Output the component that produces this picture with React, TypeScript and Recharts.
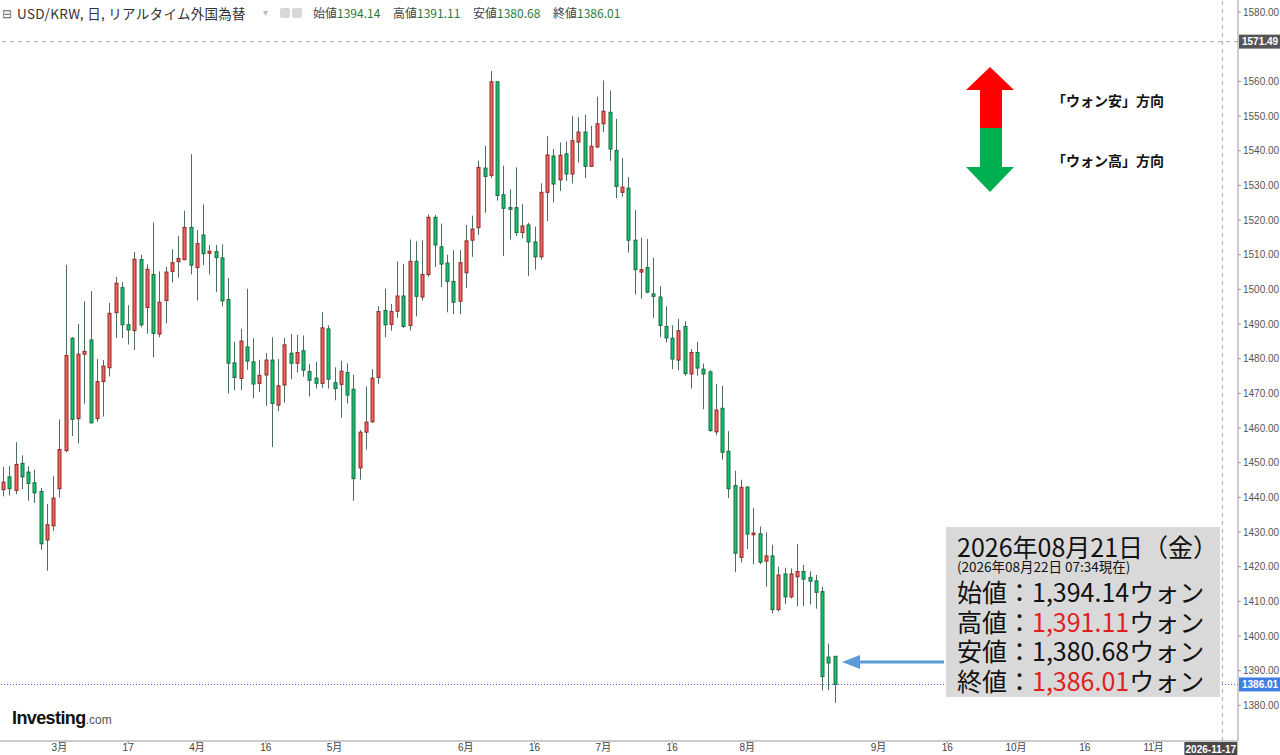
import React from "react";
import { Bar, ComposedChart, ReferenceLine, XAxis, YAxis } from "recharts";

// first trading day shown and how many weekday slots the x axis holds
const START_DATE = "2026-02-17";
const SLOT_COUNT = 198;

const opens = [
  1442.2, 1445.9, 1442.0, 1449.8, 1447.3, 1444.2, 1441.7, 1427.7, 1431.8, 1442.5,
  1453.5, 1485.9, 1462.7, 1481.3, 1485.4, 1462.7, 1473.4, 1477.4, 1493.3, 1500.5,
  1489.8, 1488.1, 1508.6, 1494.8, 1504.3, 1487.1, 1496.8, 1505.2, 1508.0, 1508.6,
  1517.9, 1506.3, 1515.7, 1510.4, 1510.9, 1509.1, 1497.1, 1478.8, 1474.3, 1483.4,
  1479.1, 1472.9, 1475.3, 1479.6, 1466.6, 1472.4, 1481.6, 1478.7, 1482.3, 1476.3,
  1474.4, 1472.9, 1488.6, 1473.1, 1472.6, 1476.0, 1471.2, 1448.5, 1458.8, 1461.8,
  1474.6, 1493.9, 1489.9, 1493.7, 1498.1, 1489.6, 1508.1, 1497.8, 1504.3, 1520.8,
  1512.3, 1507.6, 1502.3, 1496.6, 1504.8, 1514.2, 1517.8, 1535.0, 1532.9, 1559.9,
  1527.3, 1523.6, 1523.6, 1516.4, 1518.6, 1513.7, 1509.4, 1528.0, 1538.5, 1531.6,
  1539.1, 1533.3, 1542.5, 1545.4, 1535.5, 1541.1, 1547.8, 1551.1, 1540.1, 1528.0,
  1529.2, 1514.2, 1505.0, 1506.3, 1498.7, 1497.8, 1489.3, 1485.9, 1479.6, 1489.3,
  1475.6, 1481.8, 1477.0, 1476.2, 1458.9, 1465.7, 1453.3, 1443.4, 1422.7, 1443.0,
  1429.2, 1429.5, 1421.6, 1423.1, 1407.6, 1417.9, 1411.3, 1417.1, 1418.6, 1416.9,
  1415.9, 1412.8, 1393.9, 1394.14,
];
const highs = [
  1448.8, 1449.0, 1455.9, 1452.1, 1449.0, 1448.0, 1442.7, 1438.1, 1446.1, 1462.5,
  1507.1, 1486.2, 1490.0, 1496.6, 1499.5, 1479.9, 1479.6, 1496.1, 1503.6, 1502.1,
  1495.4, 1510.8, 1510.0, 1507.2, 1519.3, 1505.2, 1506.5, 1511.6, 1515.4, 1522.7,
  1539.0, 1517.1, 1524.5, 1512.8, 1512.8, 1513.0, 1503.3, 1484.9, 1488.6, 1500.2,
  1485.9, 1479.7, 1481.6, 1486.2, 1479.9, 1486.0, 1487.2, 1486.9, 1486.7, 1478.5,
  1479.2, 1493.4, 1489.6, 1477.5, 1479.4, 1478.7, 1475.4, 1459.4, 1472.0, 1477.0,
  1495.1, 1500.2, 1495.8, 1508.1, 1507.4, 1514.4, 1513.9, 1514.2, 1521.6, 1521.5,
  1519.0, 1510.0, 1511.3, 1511.3, 1518.6, 1521.3, 1537.2, 1541.4, 1563.0, 1560.1,
  1535.7, 1528.9, 1535.2, 1524.6, 1519.2, 1518.1, 1530.6, 1544.2, 1540.5, 1542.4,
  1542.7, 1550.0, 1549.7, 1550.4, 1547.2, 1555.6, 1560.3, 1557.4, 1549.2, 1537.9,
  1532.4, 1522.9, 1514.9, 1514.5, 1509.2, 1500.9, 1495.1, 1489.6, 1491.5, 1490.8,
  1482.8, 1484.9, 1478.6, 1476.7, 1472.7, 1472.2, 1459.1, 1447.7, 1445.1, 1443.0,
  1436.9, 1431.6, 1429.9, 1426.3, 1420.0, 1419.7, 1419.5, 1426.5, 1420.5, 1418.7,
  1417.6, 1414.2, 1397.8, 1394.14,
];
const lows = [
  1440.3, 1440.5, 1441.0, 1442.4, 1439.0, 1438.4, 1424.8, 1418.8, 1430.3, 1440.0,
  1453.0, 1457.7, 1455.6, 1467.0, 1461.3, 1461.8, 1463.3, 1474.9, 1486.0, 1486.0,
  1484.1, 1482.5, 1489.1, 1487.2, 1480.4, 1486.2, 1490.2, 1502.0, 1503.4, 1508.4,
  1504.3, 1496.8, 1507.0, 1504.3, 1499.2, 1495.1, 1470.0, 1470.9, 1470.9, 1476.8,
  1468.6, 1470.4, 1466.4, 1454.5, 1464.9, 1467.3, 1474.1, 1476.0, 1474.8, 1469.1,
  1471.4, 1471.5, 1471.4, 1468.0, 1463.0, 1467.1, 1439.0, 1445.1, 1453.8, 1461.5,
  1472.7, 1486.2, 1488.1, 1491.8, 1488.9, 1488.1, 1492.2, 1496.8, 1503.6, 1506.5,
  1500.7, 1493.4, 1492.9, 1492.8, 1500.4, 1509.4, 1515.7, 1522.1, 1532.1, 1525.6,
  1509.6, 1514.4, 1515.4, 1514.7, 1503.9, 1505.7, 1508.6, 1519.7, 1525.1, 1528.4,
  1531.3, 1530.6, 1536.6, 1532.1, 1535.3, 1540.8, 1545.4, 1537.1, 1526.3, 1526.8,
  1510.6, 1498.5, 1497.3, 1498.9, 1491.8, 1486.2, 1484.7, 1477.0, 1476.7, 1475.1,
  1471.4, 1475.1, 1465.4, 1458.9, 1457.9, 1450.9, 1439.8, 1418.4, 1421.2, 1425.1,
  1420.7, 1420.7, 1414.2, 1406.5, 1407.1, 1409.2, 1410.8, 1408.6, 1408.6, 1409.1,
  1407.9, 1384.3, 1384.3, 1380.68,
];
const closes = [
  1444.4, 1442.5, 1449.5, 1445.9, 1444.0, 1441.3, 1426.6, 1432.1, 1439.8, 1453.8,
  1480.9, 1462.5, 1481.3, 1482.1, 1461.5, 1473.4, 1477.9, 1493.1, 1501.8, 1489.8,
  1488.3, 1508.7, 1489.8, 1505.8, 1487.3, 1496.3, 1505.0, 1507.7, 1508.9, 1517.9,
  1507.0, 1513.2, 1510.3, 1511.0, 1509.2, 1496.7, 1478.7, 1474.6, 1485.1, 1479.3,
  1472.7, 1475.2, 1479.6, 1467.1, 1472.2, 1484.0, 1478.7, 1481.8, 1476.7, 1473.8,
  1472.9, 1488.9, 1474.1, 1471.4, 1476.4, 1469.5, 1445.4, 1458.8, 1461.7, 1474.4,
  1493.6, 1489.8, 1493.6, 1498.1, 1489.3, 1508.1, 1498.0, 1504.3, 1520.8, 1512.8,
  1507.3, 1502.3, 1496.3, 1507.7, 1514.0, 1517.4, 1535.2, 1532.6, 1559.9, 1527.1,
  1523.4, 1523.1, 1516.4, 1518.3, 1513.7, 1509.4, 1528.0, 1538.8, 1530.4, 1538.7,
  1533.3, 1542.9, 1545.4, 1535.5, 1541.3, 1547.8, 1551.4, 1540.5, 1529.7, 1529.5,
  1514.2, 1505.7, 1505.7, 1499.2, 1498.0, 1489.6, 1486.0, 1479.9, 1488.1, 1475.7,
  1481.8, 1477.3, 1475.6, 1459.3, 1465.2, 1453.0, 1442.5, 1423.9, 1442.9, 1429.4,
  1429.7, 1421.3, 1423.1, 1407.6, 1417.6, 1411.3, 1417.9, 1418.6, 1416.4, 1415.8,
  1412.6, 1388.3, 1392.2, 1386.01,
];

const xTicks = [
  "2026-03-02", "2026-03-17", "2026-04-01", "2026-04-16", "2026-05-01",
  "2026-06-01", "2026-06-16", "2026-07-01", "2026-07-16", "2026-08-03",
  "2026-09-01", "2026-09-16", "2026-10-01", "2026-10-16", "2026-11-02",
];
const xTickLabels = [
  "3月", "17", "4月", "16", "5月", "6月", "16", "7月", "16", "8月",
  "9月", "16", "10月", "16", "11月",
];
// 1570 sits under the crosshair price tag, so it is left out
const priceTicks = [
  1380, 1390, 1400, 1410, 1420, 1430, 1440, 1450, 1460, 1470, 1480,
  1490, 1500, 1510, 1520, 1530, 1540, 1550, 1560, 1580,
];

const crossPrice = 1571.49;
const crossDate = "2026-11-17";
const lastClose = 1386.01;

const headerQuotes = [
  { label: "始値", value: "1394.14", left: 313 },
  { label: "高値", value: "1391.11", left: 393 },
  { label: "安値", value: "1380.68", left: 473 },
  { label: "終値", value: "1386.01", left: 553 },
];
const boxRows = [
  { label: "始値：", value: "1,394.14", red: false },
  { label: "高値：", value: "1,391.11", red: true },
  { label: "安値：", value: "1,380.68", red: false },
  { label: "終値：", value: "1,386.01", red: true },
];

function weekdaySlots(start: string, n: number) {
  const out: string[] = [];
  const d = new Date(start + "T00:00:00Z");
  while (out.length < n) {
    const w = d.getUTCDay();
    if (w !== 0 && w !== 6) out.push(d.toISOString().slice(0, 10));
    d.setUTCDate(d.getUTCDate() + 1);
  }
  return out;
}

const data = weekdaySlots(START_DATE, SLOT_COUNT).map((date, i) =>
  i < opens.length
    ? {
        date,
        open: opens[i],
        high: highs[i],
        low: lows[i],
        close: closes[i],
        range: [lows[i], highs[i]],
      }
    : { date }
);

const CJK = '"Noto Sans CJK JP", "Noto Sans", sans-serif';
const AXIS_FONT = '"Liberation Sans", "Noto Sans CJK JP", sans-serif';

const Candle = (props: any) => {
  const { x, y, width, height, payload } = props;
  if (!payload || payload.open == null || !isFinite(y)) return <g />;
  const { open, high, low, close } = payload;
  const span = high - low || 1;
  const py = (v: number) => y + ((high - v) / span) * height;
  const cx = Math.round(x + width / 2) + 0.5;
  const up = close >= open;
  const top = py(Math.max(open, close));
  const bot = py(Math.min(open, close));
  return (
    <g>
      <line x1={cx} x2={cx} y1={y} y2={y + height} stroke="#4b6f5b" strokeWidth={1} />
      <rect
        x={cx - 1.5}
        y={top}
        width={3}
        height={Math.max(bot - top, 1)}
        fill={up ? "#f2635b" : "#12c46f"}
        stroke={up ? "#8c2b28" : "#1c6a40"}
        strokeWidth={1}
      />
    </g>
  );
};

const PriceTag = (props: any) => {
  const { viewBox, text, fill } = props;
  if (!viewBox) return null;
  const x = viewBox.x + viewBox.width + 1;
  const y = viewBox.y;
  return (
    <g>
      <rect x={x} y={y - 7} width={42} height={14} fill={fill} />
      <text x={x + 3} y={y + 3.5} fill="#fff" fontSize={10} fontWeight="bold" fontFamily={AXIS_FONT}>
        {text}
      </text>
    </g>
  );
};

const DateTag = (props: any) => {
  const { viewBox, text } = props;
  if (!viewBox) return null;
  const x = viewBox.x;
  const y = viewBox.y + viewBox.height;
  return (
    <g>
      <rect x={x - 38} y={y + 1} width={53} height={14} fill="#4a4a4a" />
      <text x={x - 11.5} y={y + 11.5} fill="#fff" fontSize={10} fontWeight="bold" textAnchor="middle" fontFamily={AXIS_FONT}>
        {text}
      </text>
    </g>
  );
};

export default function App() {
  return (
    <div style={{ position: "relative", width: 1280, height: 755, background: "#fff", overflow: "hidden" }}>
      <style>{"body{margin:0}"}</style>
      <ComposedChart width={1280} height={755} data={data} margin={{ top: 0, right: 0, bottom: 0, left: 0 }}>
        <XAxis
          dataKey="date"
          ticks={xTicks}
          interval={0}
          height={14}
          tickSize={3}
          tickMargin={0}
          axisLine={{ stroke: "#9a9a9a" }}
          tickLine={{ stroke: "#9a9a9a" }}
          tick={{ fontSize: 10, fill: "#444", fontFamily: AXIS_FONT }}
          tickFormatter={(d: string) => xTickLabels[xTicks.indexOf(d)] ?? ""}
        />
        <YAxis
          orientation="right"
          type="number"
          domain={[1369.7, 1583.5]}
          allowDataOverflow
          ticks={priceTicks}
          width={42}
          tickSize={3}
          tickMargin={2}
          axisLine={{ stroke: "#9a9a9a" }}
          tickLine={{ stroke: "#9a9a9a" }}
          tick={{ fontSize: 10, fill: "#555", fontFamily: AXIS_FONT }}
          tickFormatter={(v: number) => v.toFixed(2)}
        />
        <ReferenceLine
          y={crossPrice}
          stroke="#a8a8a8"
          strokeDasharray="4 4"
          label={<PriceTag text={crossPrice.toFixed(2)} fill="#555555" />}
        />
        <ReferenceLine
          x={crossDate}
          stroke="#a8a8a8"
          strokeDasharray="4 4"
          label={<DateTag text={crossDate} />}
        />
        <ReferenceLine
          y={lastClose}
          stroke="#4a5fd6"
          strokeDasharray="1 2"
          label={<PriceTag text={lastClose.toFixed(2)} fill="#3f7fe3" />}
        />
        <Bar dataKey="range" shape={<Candle />} isAnimationActive={false} />
      </ComposedChart>

      {/* header line */}
      <div style={{ position: "absolute", left: 2, top: 5, fontSize: 12, color: "#666", fontFamily: CJK, lineHeight: "16px" }}>⊟</div>
      <div style={{ position: "absolute", left: 17, top: 5, fontSize: 13.5, color: "#333", fontFamily: CJK, lineHeight: "16px", whiteSpace: "nowrap", letterSpacing: 0.3 }}>
        USD/KRW, 日, リアルタイム外国為替
      </div>
      <div style={{ position: "absolute", left: 263, top: 5, fontSize: 10, color: "#bbb", lineHeight: "16px" }}>▾</div>
      <div style={{ position: "absolute", left: 280, top: 8, width: 10, height: 10, background: "#d8d8d8", borderRadius: 2 }} />
      <div style={{ position: "absolute", left: 292, top: 8, width: 10, height: 10, background: "#d8d8d8", borderRadius: 2 }} />
      {headerQuotes.map((q) => (
        <div key={q.label} style={{ position: "absolute", left: q.left, top: 5, fontSize: 12, lineHeight: "16px", fontFamily: CJK, whiteSpace: "nowrap" }}>
          <span style={{ color: "#444" }}>{q.label}</span>
          <span style={{ color: "#2b7a3b" }}>{q.value}</span>
        </div>
      ))}

      {/* direction arrows */}
      <svg style={{ position: "absolute", left: 0, top: 0 }} width={1280} height={755} pointerEvents="none">
        <polygon points="966,90 990,67 1014,90" fill="#ff0000" />
        <rect x={980} y={90} width={22} height={38} fill="#ff0000" />
        <rect x={980} y={128} width={22} height={40} fill="#00b050" />
        <polygon points="966,167 1014,167 990,192" fill="#00b050" />
        <line x1={944} y1={662} x2={858} y2={662} stroke="#5b9bd5" strokeWidth={3} />
        <polygon points="842,662 860,655 860,669" fill="#5b9bd5" />
      </svg>
      <div style={{ position: "absolute", left: 1052, top: 90, fontSize: 14, fontWeight: 700, fontFamily: CJK, color: "#111", lineHeight: "20px" }}>
        「ウォン安」方向
      </div>
      <div style={{ position: "absolute", left: 1052, top: 150, fontSize: 14, fontWeight: 700, fontFamily: CJK, color: "#111", lineHeight: "20px" }}>
        「ウォン高」方向
      </div>

      {/* quote box */}
      <div style={{ position: "absolute", left: 946, top: 527, width: 274, height: 170, background: "#d9d9d9", fontFamily: CJK, color: "#111" }}>
        <div style={{ position: "absolute", left: 11, top: 6, fontSize: 25, lineHeight: "26px", whiteSpace: "nowrap" }}>
          2026年08月21日（金）
        </div>
        <div style={{ position: "absolute", left: 11, top: 32, fontSize: 13.5, lineHeight: "14px", whiteSpace: "nowrap" }}>
          (2026年08月22日 07:34現在)
        </div>
        {boxRows.map((r, i) => (
          <div key={r.label} style={{ position: "absolute", left: 11, top: 50 + i * 29.7, fontSize: 25, lineHeight: "28px", whiteSpace: "nowrap" }}>
            {r.label}
            <span style={{ color: r.red ? "#e01e1e" : "#111" }}>{r.value}</span>
            ウォン
          </div>
        ))}
      </div>

      {/* logo */}
      <div style={{ position: "absolute", left: 12, top: 708, whiteSpace: "nowrap", fontFamily: '"Liberation Sans", Arial, sans-serif' }}>
        <span style={{ fontSize: 18, fontWeight: 700, color: "#111", letterSpacing: -0.6 }}>Investing</span>
        <span style={{ fontSize: 12, color: "#555" }}>.com</span>
      </div>
    </div>
  );
}
